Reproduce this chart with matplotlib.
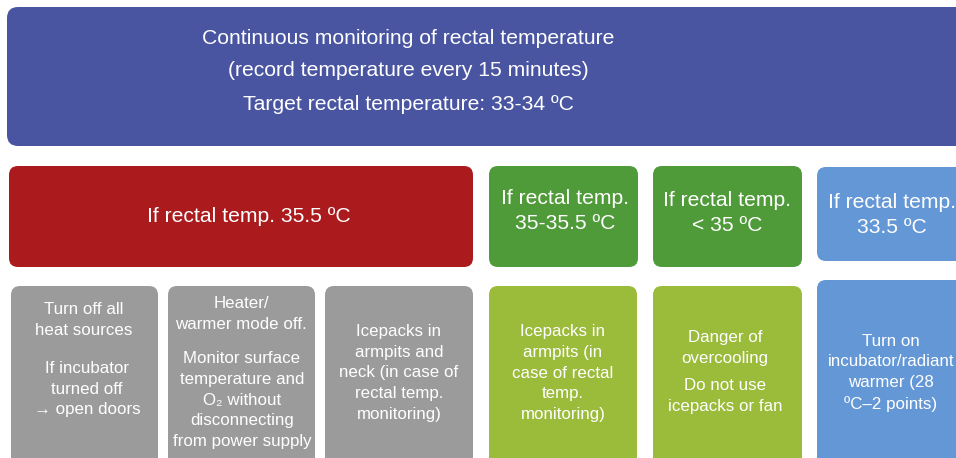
import matplotlib.pyplot as plt
from matplotlib.patches import FancyBboxPatch

# text content
top_lines = ["Continuous monitoring of rectal temperature",
             "(record temperature every 15 minutes)",
             "Target rectal temperature: 33-34 \u00baC"]
headers = ["If rectal temp. 35.5 \u00baC",
           "If rectal temp.\n35-35.5 \u00baC",
           "If rectal temp.\n< 35 \u00baC",
           "If rectal temp.\n33.5 \u00baC"]
actions = [["Turn off all\nheat sources", "If incubator\nturned off\n\u2192 open doors"],
           ["Heater/\nwarmer mode off.", "Monitor surface\ntemperature and\nO\u2082 without\ndisconnecting\nfrom power supply"],
           ["Icepacks in\narmpits and\nneck (in case of\nrectal temp.\nmonitoring)"],
           ["Icepacks in\narmpits (in\ncase of rectal\ntemp.\nmonitoring)"],
           ["Danger of\novercooling", "Do not use\nicepacks or fan"],
           ["Turn on\nincubator/radiant\nwarmer (28\n\u00baC\u20132 points)"]]

c_top = "#4a55a2"
c_red = "#ab1a1d"
c_green = "#4f9a39"
c_lgreen = "#9bbb3b"
c_blue = "#6497d6"
c_gray = "#9b9b9b"

fam = ["Liberation Sans", "DejaVu Sans"]

fig = plt.figure(figsize=(9.56, 4.58), dpi=100)
ax = fig.add_axes([0, 0, 1, 1])
ax.set_xlim(0, 956)
ax.set_ylim(458, 0)
ax.axis("off")


def box(x0, y0, x1, y1, color, r=9):
    ax.add_patch(FancyBboxPatch((x0, y0), x1 - x0, y1 - y0,
                                boxstyle=f"round,pad=0,rounding_size={r}",
                                fc=color, ec="none"))


def txt(x, y, s, size, ls=1.48):
    ax.text(x, y, s, ha="center", va="center", color="white", fontsize=size,
            linespacing=ls, family=fam)


# top banner
box(7, 7, 975, 146, c_top, r=11)
for i, s in enumerate(top_lines):
    txt(408, 38 + i * 33, s, 15.2)

# header row
box(9, 166, 473, 267, c_red)
box(489, 166, 638, 267, c_green)
box(653, 166, 802, 267, c_green)
box(817, 167, 975, 261, c_blue)
txt(249, 217, headers[0], 15.2)
txt(565, 211, headers[1], 15.2, ls=1.42)
txt(727, 213, headers[2], 15.2, ls=1.42)
txt(892, 215, headers[3], 15.2, ls=1.42)

# action row
box(11, 286, 158, 470, c_gray)
box(168, 286, 315, 470, c_gray)
box(325, 286, 473, 470, c_gray)
box(489, 286, 637, 470, c_lgreen)
box(653, 286, 802, 470, c_lgreen)
box(817, 280, 975, 470, c_blue)

fs = 12.2
txt(84, 320, actions[0][0], fs)
txt(87, 389, actions[0][1], fs)
txt(241, 314, actions[1][0], fs)
txt(242, 400, actions[1][1], fs)
txt(399, 373, actions[2][0], fs)
txt(563, 373, actions[3][0], fs)
txt(725, 348, actions[4][0], fs)
txt(725, 396, actions[4][1], fs)
txt(891, 373, actions[5][0], fs)

fig.savefig("out.png", dpi=100)
